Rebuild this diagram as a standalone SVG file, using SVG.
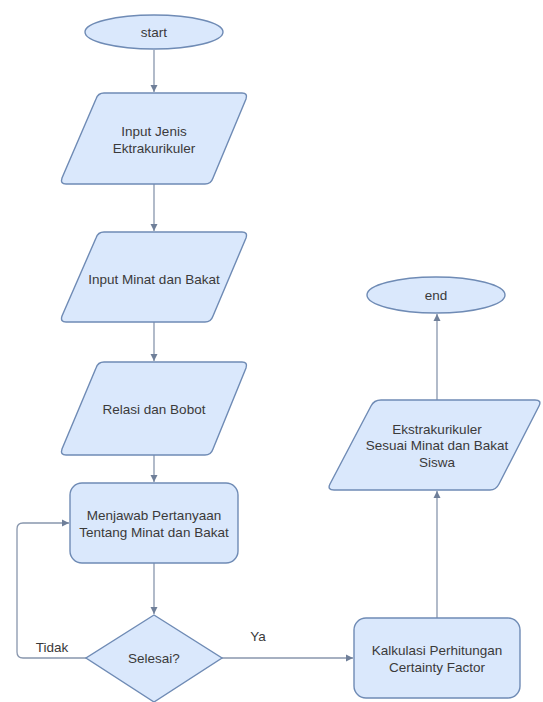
<svg xmlns="http://www.w3.org/2000/svg" width="543" height="702" viewBox="0 0 543 702">
<defs>
<style>
.shape{fill:#dae8fc;stroke:#6f8bb5;stroke-width:1.4}
.edge{fill:none;stroke:#8896ad;stroke-width:1.3}
.t{font-family:"Liberation Sans",Arial,sans-serif;font-size:13.5px;fill:#3a3a3a;text-anchor:middle}
</style>
<marker id="arr" markerWidth="8" markerHeight="8" refX="7" refY="4" orient="auto" markerUnits="userSpaceOnUse">
<path d="M0,0.5 L7,4 L0,7.5 Z" fill="#6f7f99"/>
</marker>
</defs>
<rect width="543" height="702" fill="#ffffff"/>
<g id="connectors">
<path class="edge" d="M154,50 L154,92" marker-end="url(#arr)"/>
<path class="edge" d="M154,184 L154,231" marker-end="url(#arr)"/>
<path class="edge" d="M154,322 L154,361" marker-end="url(#arr)"/>
<path class="edge" d="M154,455 L154,482" marker-end="url(#arr)"/>
<path class="edge" d="M154,563 L154,614" marker-end="url(#arr)"/>
<path class="edge" d="M86,658 L23,658 Q17,658 17,652 L17,529 Q17,523 23,523 L69,523" marker-end="url(#arr)"/>
<path class="edge" d="M222,658 L353,658" marker-end="url(#arr)"/>
<path class="edge" d="M437,618 L437,491" marker-end="url(#arr)"/>
<path class="edge" d="M437,400 L437,314" marker-end="url(#arr)"/>
<text class="t" x="52" y="652">Tidak</text>
<text class="t" x="258" y="641">Ya</text>
</g>
<g id="start">
<ellipse class="shape" cx="154" cy="32" rx="69" ry="17"/>
<text class="t" x="154" y="37">start</text>
</g>
<g id="input-jenis">
<path class="shape" d="M104,93 L242,93 Q248,93 246,99 L213,178 Q211,184 205,184 L66,184 Q60,184 62,178 L96,99 Q98,93 104,93 Z"/>
<text class="t" x="154" y="136">Input Jenis</text>
<text class="t" x="154" y="153">Ektrakurikuler</text>
</g>
<g id="input-minat">
<path class="shape" d="M104,232 L242,232 Q248,232 246,238 L213,316 Q211,322 205,322 L66,322 Q60,322 62,316 L96,238 Q98,232 104,232 Z"/>
<text class="t" x="154" y="284">Input Minat dan Bakat</text>
</g>
<g id="relasi">
<path class="shape" d="M104,362 L242,362 Q248,362 246,368 L213,449 Q211,455 205,455 L66,455 Q60,455 62,449 L96,368 Q98,362 104,362 Z"/>
<text class="t" x="154" y="414">Relasi dan Bobot</text>
</g>
<g id="menjawab">
<rect class="shape" x="70" y="483" width="168" height="80" rx="12" ry="12"/>
<text class="t" x="154" y="520">Menjawab Pertanyaan</text>
<text class="t" x="154" y="537">Tentang Minat dan Bakat</text>
</g>
<g id="selesai">
<path class="shape" d="M154,615 L222,658 L154,702 L86,658 Z"/>
<text class="t" x="154" y="663">Selesai?</text>
</g>
<g id="kalkulasi">
<rect class="shape" x="354" y="618" width="166" height="80" rx="12" ry="12"/>
<text class="t" x="437" y="655">Kalkulasi Perhitungan</text>
<text class="t" x="437" y="672">Certainty Factor</text>
</g>
<g id="hasil">
<path class="shape" d="M381,400 L535,400 Q542,400 539,406 L499,484 Q496,490 490,490 L334,490 Q327,490 330,484 L371,406 Q374,400 381,400 Z"/>
<text class="t" x="437" y="434">Ekstrakurikuler</text>
<text class="t" x="437" y="450">Sesuai Minat dan Bakat</text>
<text class="t" x="437" y="467">Siswa</text>
</g>
<g id="end">
<ellipse class="shape" cx="436" cy="295" rx="69" ry="18"/>
<text class="t" x="436" y="300">end</text>
</g>
</svg>
